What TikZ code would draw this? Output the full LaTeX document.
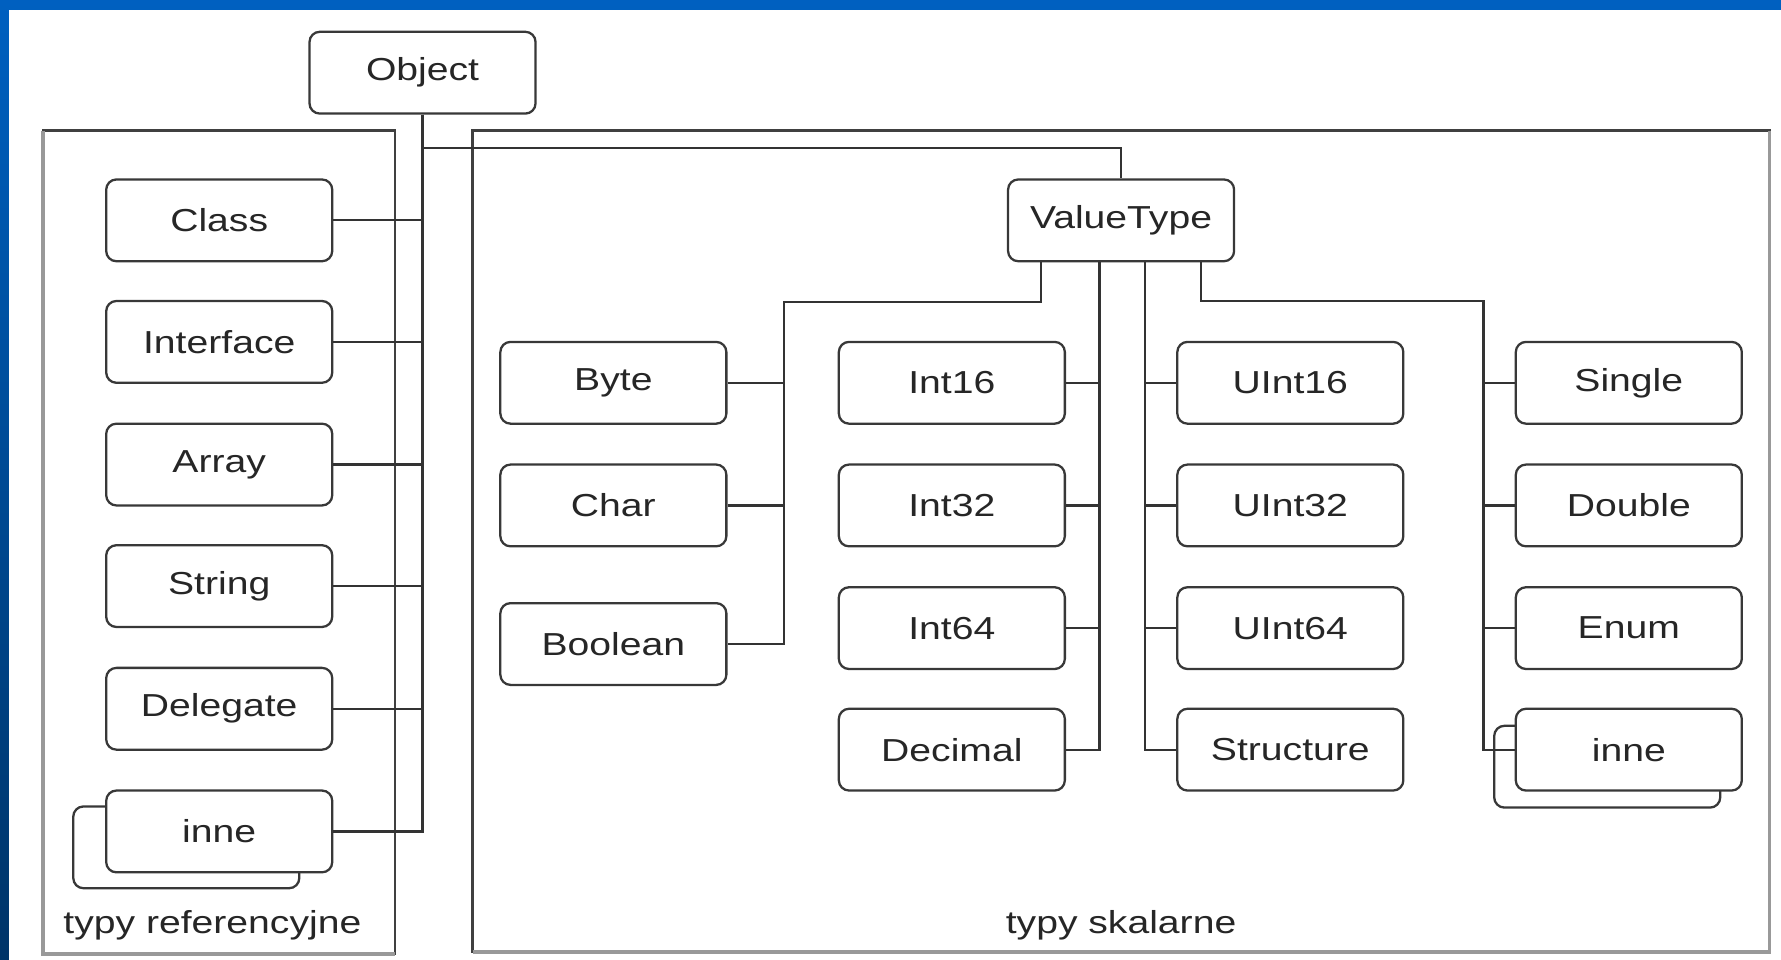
\documentclass[tikz,border=0pt]{standalone}
\usepackage{fontspec}
\setmainfont{Liberation Sans}[FakeStretch=1.23]
\begin{document}
\begin{tikzpicture}[x=1pt,y=-1pt]
\tikzstyle{typ}=[draw=black!78, fill=white, line width=2pt, rounded corners=9pt, minimum width=199pt, minimum height=72pt, inner sep=0pt, font=\fontsize{28}{34}\selectfont, text=black!85]
\tikzstyle{polaczenie}=[draw=black!80, line width=2pt]
\tikzstyle{ramka}=[draw=black!75, line width=2pt]
\tikzstyle{podpis}=[font=\fontsize{28}{34}\selectfont, text=black!85, inner sep=0pt]
\shade[top color={rgb,255:red,0;green,96;blue,192}, bottom color={rgb,255:red,0;green,52;blue,104}] (0,0) rectangle (1568,845);
\fill[white] (8,9) rectangle (1568,845);
\useasboundingbox (0,0) rectangle (1568,845);
\draw[ramka] (38,115) rectangle (348,840);
\draw[ramka] (416,115) rectangle (1558,838);
\draw[line width=3pt, black!40] (38,115) -- (38,840) -- (348,840);
\draw[line width=3pt, black!40] (416,838) -- (1558,838) -- (1558,115);
\node[podpis] (opisref) at (187,815) {typy referencyjne};
\node[podpis] (opisskal) at (987,815) {typy skalarne};
\node[typ] (object) at (372,64) {Object};
\node[typ] (class) at (193,194) {Class};
\node[typ] (interface) at (193,301) {Interface};
\node[typ] (array) at (193,409) {Array};
\node[typ] (string) at (193,516) {String};
\node[typ] (delegate) at (193,624) {Delegate};
\node[typ] (innerefcien) at (164,746) {};
\node[typ] (inneref) at (193,732) {inne};
\node[typ] (valuetype) at (987,194) {ValueType};
\node[typ] (byte) at (540,337) {Byte};
\node[typ] (char) at (540,445) {Char};
\node[typ] (boolean) at (540,567) {Boolean};
\node[typ] (int16) at (838,337) {Int16};
\node[typ] (int32) at (838,445) {Int32};
\node[typ] (int64) at (838,553) {Int64};
\node[typ] (decimal) at (838,660) {Decimal};
\node[typ] (uint16) at (1136,337) {UInt16};
\node[typ] (uint32) at (1136,445) {UInt32};
\node[typ] (uint64) at (1136,553) {UInt64};
\node[typ] (structure) at (1136,660) {Structure};
\node[typ] (single) at (1434,337) {Single};
\node[typ] (double) at (1434,445) {Double};
\node[typ] (enum) at (1434,553) {Enum};
\node[typ] (inneskcien) at (1415,675) {};
\node[typ] (innesk) at (1434,660) {inne};
\draw[polaczenie] (object.south) |- (inneref.east);
\draw[polaczenie] (class.east) -- (class.east -| object.south);
\draw[polaczenie] (interface.east) -- (interface.east -| object.south);
\draw[polaczenie] (array.east) -- (array.east -| object.south);
\draw[polaczenie] (string.east) -- (string.east -| object.south);
\draw[polaczenie] (delegate.east) -- (delegate.east -| object.south);
\draw[polaczenie] (object.south) |- ([yshift=27pt]valuetype.north) -- (valuetype.north);
\coordinate (szyna1) at (690,266);
\coordinate (szyna2) at ([xshift=-19pt]valuetype.south);
\coordinate (szyna3) at ([xshift=21pt]valuetype.south);
\coordinate (szyna4) at (1306,265);
\draw[polaczenie] ([xshift=30pt]valuetype.south west) |- (szyna1) |- (boolean.east);
\draw[polaczenie] (byte.east) -- (byte.east -| szyna1);
\draw[polaczenie] (char.east) -- (char.east -| szyna1);
\draw[polaczenie] (szyna2) |- (decimal.east);
\draw[polaczenie] (int16.east) -- (int16.east -| szyna2);
\draw[polaczenie] (int32.east) -- (int32.east -| szyna2);
\draw[polaczenie] (int64.east) -- (int64.east -| szyna2);
\draw[polaczenie] (szyna3) |- (structure.west);
\draw[polaczenie] (uint16.west) -- (uint16.west -| szyna3);
\draw[polaczenie] (uint32.west) -- (uint32.west -| szyna3);
\draw[polaczenie] (uint64.west) -- (uint64.west -| szyna3);
\draw[polaczenie] ([xshift=-30pt]valuetype.south east) |- (szyna4) |- (innesk.west);
\draw[polaczenie] (single.west) -- (single.west -| szyna4);
\draw[polaczenie] (double.west) -- (double.west -| szyna4);
\draw[polaczenie] (enum.west) -- (enum.west -| szyna4);
\end{tikzpicture}
\end{document}
